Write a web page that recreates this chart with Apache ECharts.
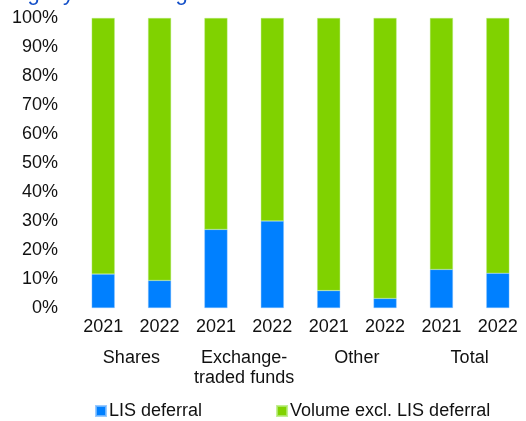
<!DOCTYPE html>
<html>
<head>
<meta charset="utf-8">
<script src="https://cdn.jsdelivr.net/npm/echarts@6/dist/echarts.min.js"></script>
<style>
  html, body { margin: 0; padding: 0; background: #fff; }
  #chart { width: 526px; height: 421px; }
</style>
</head>
<body>
<div id="chart"></div>
<script>
// 数据
const years = ['2021', '2022', '2021', '2022', '2021', '2022', '2021', '2022'];
const groups = ['Shares', 'Exchange-\ntraded funds', 'Other', 'Total'];
const lisDeferral = [11.7, 9.5, 27.1, 30.0, 6.0, 3.3, 13.3, 12.0];
const volumeExcl = [88.3, 90.5, 72.9, 70.0, 94.0, 96.7, 86.7, 88.0];

const blueColor = '#0080ff';
const greenColor = '#80d200';
const labelColor = '#111';
const fontFamily = 'Liberation Sans, Arial, sans-serif';
const fontSize = 18;

const chart = echarts.init(document.getElementById('chart'));

chart.setOption({
  animation: false,
  title: {
    text: 'Slightly decreasing share of LIS deferral',
    left: -2,
    top: -22,
    textStyle: { color: '#1450c8', fontSize: 22, fontWeight: 'normal', fontFamily: fontFamily }
  },
  legend: {
    left: 90,
    top: 397,
    itemWidth: 10,
    itemHeight: 10,
    itemGap: 74,
    icon: 'rect',
    textStyle: { color: labelColor, fontSize: fontSize, fontFamily: fontFamily, padding: [0, 0, 0, -2] },
    data: ['LIS deferral', 'Volume excl. LIS deferral']
  },
  grid: {
    left: 75,
    right: -6,
    top: 18,
    bottom: 113
  },
  xAxis: [
    {
      type: 'category',
      data: years,
      axisLine: { show: false },
      axisTick: { show: false },
      axisLabel: { color: labelColor, fontSize: fontSize, fontFamily: fontFamily, margin: 10, interval: 0 }
    },
    {
      type: 'category',
      position: 'bottom',
      offset: 31,
      data: groups,
      axisLine: { show: false },
      axisTick: { show: false },
      axisLabel: { color: labelColor, fontSize: fontSize, fontFamily: fontFamily, margin: 9, lineHeight: 20, interval: 0 }
    }
  ],
  yAxis: {
    type: 'value',
    min: 0,
    max: 100,
    interval: 10,
    axisLine: { show: false },
    axisTick: { show: false },
    splitLine: { show: false },
    axisLabel: { formatter: '{value}%', color: labelColor, fontSize: fontSize, fontFamily: fontFamily, margin: 17 }
  },
  series: [
    {
      name: 'LIS deferral',
      type: 'bar',
      stack: 'total',
      barWidth: 23,
      data: lisDeferral,
      itemStyle: { color: blueColor, borderColor: 'rgba(130,190,255,0.8)', borderWidth: 0.5 }
    },
    {
      name: 'Volume excl. LIS deferral',
      type: 'bar',
      stack: 'total',
      barWidth: 23,
      data: volumeExcl,
      itemStyle: { color: greenColor, borderColor: 'rgba(180,235,120,0.8)', borderWidth: 0.5 }
    }
  ]
});
</script>
</body>
</html>
